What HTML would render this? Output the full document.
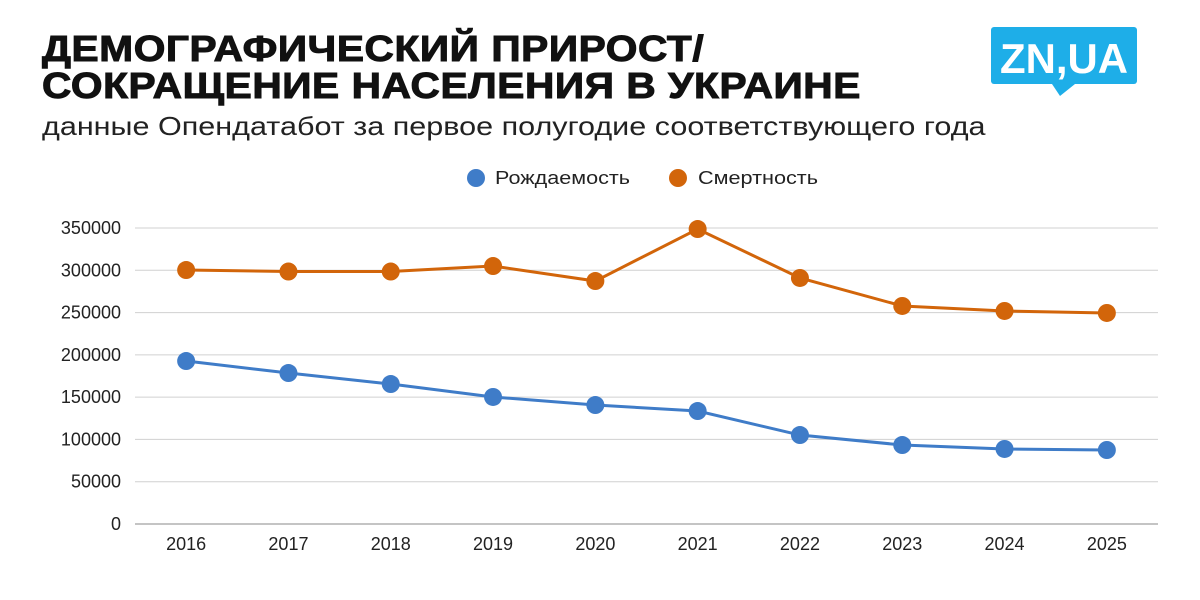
<!DOCTYPE html>
<html><head><meta charset="utf-8"><style>
body{margin:0;width:1200px;height:600px;background:#fff;font-family:"Liberation Sans","DejaVu Sans",sans-serif;overflow:hidden;position:relative}
.title{position:absolute;left:42px;top:30px;font-size:36px;font-weight:900;line-height:37px;color:#111;letter-spacing:0.5px;-webkit-text-stroke:1px #111;transform:scaleX(1.13);transform-origin:left top;white-space:nowrap}
.sub{position:absolute;left:42px;top:111px;font-size:26px;color:#222;transform:scaleX(1.175);transform-origin:left top;white-space:nowrap}
</style></head><body>
<div class="title">ДЕМОГРАФИЧЕСКИЙ ПРИРОСТ/<br>СОКРАЩЕНИЕ НАСЕЛЕНИЯ В УКРАИНЕ</div>
<div class="sub">данные Опендатабот за первое полугодие соответствующего года</div>
<svg width="1200" height="600" style="position:absolute;left:0;top:0" id="svg">
<g>
<rect x="991" y="27" width="146" height="57" rx="3" fill="#1eaee8"/>
<polygon points="1052,84 1075,84 1060,96" fill="#1eaee8"/>
<text x="1064" y="73" text-anchor="middle" font-size="42" font-weight="bold" fill="#fff" font-family="Liberation Sans, sans-serif" textLength="128" lengthAdjust="spacingAndGlyphs">ZN,UA</text>
</g>
<g>
<circle cx="476" cy="178" r="9" fill="#3f7cc8"/>
<text x="495" y="184" font-size="18" fill="#222" textLength="135" lengthAdjust="spacingAndGlyphs">Рождаемость</text>
<circle cx="678" cy="178" r="9" fill="#d2650a"/>
<text x="698" y="184" font-size="18" fill="#222" textLength="120" lengthAdjust="spacingAndGlyphs">Смертность</text>
</g>
<g id="plot"></g>
</svg>
<script>
const years=["2016","2017","2018","2019","2020","2021","2022","2023","2024","2025"];
const births=[192700,178500,165500,150200,140700,133600,105200,93400,88700,87500];
const deaths=[300300,298500,298500,305000,287300,348800,290900,257800,251900,249500];
const yTicks=[0,50000,100000,150000,200000,250000,300000,350000];
const NS="http://www.w3.org/2000/svg";
const g=document.getElementById('plot');
const x0=135,x1=1158,yb=524,yt=228,ymax=350000;
const xs=i=>x0+(x1-x0)/years.length*(i+0.5);
const ys=v=>yb-(v/ymax)*(yb-yt);
function mk(t,a){const e=document.createElementNS(NS,t);for(const k in a)e.setAttribute(k,a[k]);g.appendChild(e);return e;}
yTicks.forEach(v=>{
 const l=mk('line',{x1:x0,x2:x1,y1:ys(v),y2:ys(v),stroke:v===0?'#888':'#d0d0d0','stroke-width':1});
 
 
 const t=mk('text',{x:121,y:ys(v)+6,'text-anchor':'end','font-size':18,fill:'#222'});
 t.textContent=v;
 
 
});
years.forEach((y,i)=>{
 const t=mk('text',{x:xs(i),y:550,'text-anchor':'middle','font-size':18,fill:'#222'});
 t.textContent=y;
 
 
});
function series(vals,color,name){
 const p=mk('polyline',{points:vals.map((v,i)=>xs(i)+','+ys(v)).join(' '),fill:'none',stroke:color,'stroke-width':3});
 
 
 vals.forEach((v,i)=>{
  const c=mk('circle',{cx:xs(i),cy:ys(v),r:9,fill:color});
  
  
 });
}
series(deaths,'#d2650a','deaths');
series(births,'#3f7cc8','births');
</script>
</body></html>
